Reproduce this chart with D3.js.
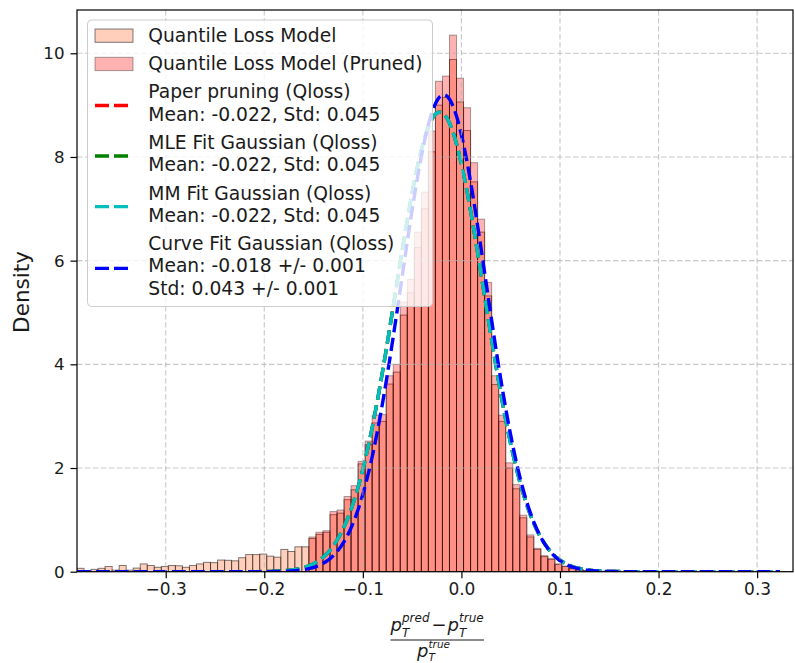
<!DOCTYPE html>
<html><head><meta charset="utf-8">
<script src="https://cdn.jsdelivr.net/npm/d3@7"></script>
<style>
body{margin:0;background:#fff}
svg{display:block}
text{font-family:"DejaVu Sans",sans-serif;fill:#1a1a1a}
</style>
</head><body>
<svg id="chart" width="795" height="663"></svg>
<script>
// ---------------- data ----------------
const binStart = -0.390;
const binWidth = 0.00713;
// density of the full model, one value per bin (bin 0 starts at binStart)
const unprunedDensity = [
 0.065,0.02,0.045,0.065,0.10,0.03,0.12,0.03,0.07,0.15,
 0.12,0.085,0.10,0.12,0.115,0.085,0.12,0.15,0.18,0.175,
 0.225,0.22,0.21,0.27,0.33,0.33,0.34,0.30,0.28,0.43,
 0.39,0.48,0.48,0.64,0.72,0.76,1.10,1.13,1.39,1.58,
 2.08,2.45,2.87,2.90,3.62,3.85,4.95,5.38,6.25,7.00,
 8.10,9.00,9.15,9.88,9.06,8.51,7.52,6.55,5.32,3.61,
 2.90,2.00,1.60,1.04,0.67,0.43,0.29,0.24,0.14,0.10,
 0.06,0.04,0.02,0.01,0.01,0,0,0,0,0,
 0,0,0,0,0,0,0,0,0,0,
 0,0,0,0,0,0,0,0,0,0
];
// density of the pruned model, starting at bin index prunedStartBin
const prunedStartBin = 33;
const prunedDensity = [
 0.67,0.76,0.79,1.16,1.19,1.45,1.66,2.13,2.52,3.02,
 3.03,3.78,4.00,5.20,5.64,6.55,7.32,8.50,9.46,9.56,
 10.35,9.52,8.95,7.89,6.80,5.58,3.78,3.02,2.10,1.68,
 1.09,0.71,0.45,0.31,0.25,0.15,0.11,0.06,0.04,0.02
];
const xTicks = [-0.3,-0.2,-0.1,0.0,0.1,0.2,0.3];
const yTicks = [0,2,4,6,8,10];
const xDomain = [-0.390, 0.3364];
const yDomain = [0, 10.835];
const curveRange = [-0.390, 0.323];
const fitMeans = [-0.022,-0.022,-0.022,-0.018];
const fitStds = [0.045,0.045,0.045,0.043];
const fitPeaks = [1/(0.045*Math.sqrt(2*Math.PI)),1/(0.045*Math.sqrt(2*Math.PI)),1/(0.045*Math.sqrt(2*Math.PI)),9.2];
const histLabels = ["Quantile Loss Model","Quantile Loss Model (Pruned)"];
const fitLabels = [
 ["Paper pruning (Qloss)","Mean: -0.022, Std: 0.045"],
 ["MLE Fit Gaussian (Qloss)","Mean: -0.022, Std: 0.045"],
 ["MM Fit Gaussian (Qloss)","Mean: -0.022, Std: 0.045"],
 ["Curve Fit Gaussian (Qloss)","Mean: -0.018 +/- 0.001","Std: 0.043 +/- 0.001"]
];

// ---------------- styles ----------------
const fitColors = ["#ff0000","#008000","#00bfbf","#0000ff"];
const histFill = ["#ffa07a","#ff0000"];
const histFillOpacity = [0.5,0.3];
const histStrokeOpacity = [0.5,0.35];
const dash = "13.5,5.5";
const lineW = 3.4;

// ---------------- layout ----------------
const svg = d3.select("#chart");
const L = 77, R = 793, T = 10, B = 571.7;
const x = d3.scaleLinear().domain(xDomain).range([L,R]);
const y = d3.scaleLinear().domain(yDomain).range([B,T]);

const defs = svg.append("defs");
defs.append("clipPath").attr("id","plotclip").append("rect")
  .attr("x",L).attr("y",T).attr("width",R-L).attr("height",B-T);

const plot = svg.append("g").attr("clip-path","url(#plotclip)");

function drawHist(values, startBin, idx){
  const data = values.map((v,i)=>({k:startBin+i,v})).filter(d=>d.v>0);
  plot.append("g").selectAll("rect").data(data).join("rect")
    .attr("x",d=>x(binStart+d.k*binWidth))
    .attr("width",d=>x(binStart+(d.k+1)*binWidth)-x(binStart+d.k*binWidth))
    .attr("y",d=>y(d.v))
    .attr("height",d=>y(0)-y(d.v))
    .attr("fill",histFill[idx]).attr("fill-opacity",histFillOpacity[idx])
    .attr("stroke","#000").attr("stroke-opacity",histStrokeOpacity[idx])
    .attr("stroke-width",1);
}
drawHist(unprunedDensity,0,0);
drawHist(prunedDensity,prunedStartBin,1);

// grid (drawn above bars, like matplotlib)
const grid = svg.append("g");
grid.selectAll("line.gx").data(xTicks).join("line")
  .attr("x1",d=>x(d)).attr("x2",d=>x(d)).attr("y1",T).attr("y2",B)
  .attr("stroke","#b0b0b0").attr("stroke-opacity",0.7).attr("stroke-width",1.1)
  .attr("stroke-dasharray","5.5,2.5");
grid.selectAll("line.gy").data(yTicks).join("line")
  .attr("x1",L).attr("x2",R).attr("y1",d=>y(d)).attr("y2",d=>y(d))
  .attr("stroke","#b0b0b0").attr("stroke-opacity",0.7).attr("stroke-width",1.1)
  .attr("stroke-dasharray","5.5,2.5");

// fitted curves
const xs = d3.range(0,601).map(i=>curveRange[0]+(curveRange[1]-curveRange[0])*i/600);
const line = d3.line().x(d=>x(d[0])).y(d=>y(d[1]));
fitMeans.forEach((m,i)=>{
  const s = fitStds[i], A = fitPeaks[i];
  const pts = xs.map(v=>[v, A*Math.exp(-0.5*((v-m)/s)**2)]);
  plot.append("path").datum(pts).attr("d",line)
    .attr("fill","none").attr("stroke",fitColors[i]).attr("stroke-width",lineW)
    .attr("stroke-dasharray",dash);
});

// axes
const xAxis = d3.axisBottom(x).tickValues(xTicks).tickSize(6.5).tickPadding(5)
  .tickFormat(d=>d3.format(".1f")(d).replace("-","\u2212"));
const gx = svg.append("g").attr("transform",`translate(0,${B})`).call(xAxis);
gx.select(".domain").remove();
gx.selectAll("line").attr("stroke","#000").attr("stroke-width",1.2);
gx.selectAll("text").attr("font-size",17).attr("font-family","DejaVu Sans").attr("fill","#1a1a1a");

const yAxis = d3.axisLeft(y).tickValues(yTicks).tickSize(6.5).tickPadding(6).tickFormat(d3.format("d"));
const gy = svg.append("g").attr("transform",`translate(${L},0)`).call(yAxis);
gy.select(".domain").remove();
gy.selectAll("line").attr("stroke","#000").attr("stroke-width",1.2);
gy.selectAll("text").attr("font-size",16.7).attr("font-family","DejaVu Sans").attr("fill","#1a1a1a");

svg.append("rect").attr("x",L).attr("y",T).attr("width",R-L).attr("height",B-T)
  .attr("fill","none").attr("stroke","#000").attr("stroke-width",1.2);

// y label
svg.append("text").attr("transform","translate(29,292) rotate(-90)")
  .attr("text-anchor","middle").attr("font-size",21.5).text("Density");

// x label (fraction): each term is one text with sub/superscript tspans
const xl = svg.append("g");
function term(px, base, sub, sup, subOff, supOff, small){
  const tx = xl.append("text").attr("font-style","italic");
  tx.append("tspan").attr("x",px).attr("y",base).attr("font-size",18).text("p");
  tx.append("tspan").attr("x",px+11.5).attr("y",base+subOff).attr("font-size",small).text(sub);
  tx.append("tspan").attr("x",px+11.5).attr("y",base-supOff).attr("font-size",small).text(sup);
}
term(390.5,631,"T","pred",5.5,9,12);
xl.append("text").attr("x",431.5).attr("y",631).attr("font-size",18).text("\u2212");
term(447.5,631,"T","true",5.5,9,12);
xl.append("line").attr("x1",390.5).attr("x2",484).attr("y1",640).attr("y2",640)
  .attr("stroke","#1a1a1a").attr("stroke-width",1.1);
term(417,657,"T","true",3.5,8.7,10.5);

// legend
const lg = svg.append("g");
lg.append("rect").attr("x",87.5).attr("y",20).attr("width",345).attr("height",286.5)
  .attr("rx",4).attr("fill","#fff").attr("fill-opacity",0.8)
  .attr("stroke","#cccccc").attr("stroke-width",1);
const fs = 18.7, firstBase = 41.7, entryGap = 28.3, lineGap = 22.3;
let base = firstBase;
histLabels.forEach((lab,i)=>{
  lg.append("rect").attr("x",95).attr("y",base-12.7).attr("width",38).attr("height",13.3)
    .attr("fill",histFill[i]).attr("fill-opacity",histFillOpacity[i])
    .attr("stroke","#000").attr("stroke-opacity",histStrokeOpacity[i]);
  lg.append("text").attr("x",148.3).attr("y",base).attr("font-size",fs).text(lab);
  base += entryGap;
});
fitLabels.forEach((lines,i)=>{
  const first = base;
  lines.forEach((s,j)=>{
    lg.append("text").attr("x",148.3).attr("y",base).attr("font-size",fs).text(s);
    if (j<lines.length-1) base += lineGap;
  });
  const hy = (first+base)/2 - 4;
  lg.append("line").attr("x1",95).attr("x2",131).attr("y1",hy).attr("y2",hy)
    .attr("stroke",fitColors[i]).attr("stroke-width",lineW).attr("stroke-dasharray","14,5");
  base += entryGap;
});
</script>
</body></html>
